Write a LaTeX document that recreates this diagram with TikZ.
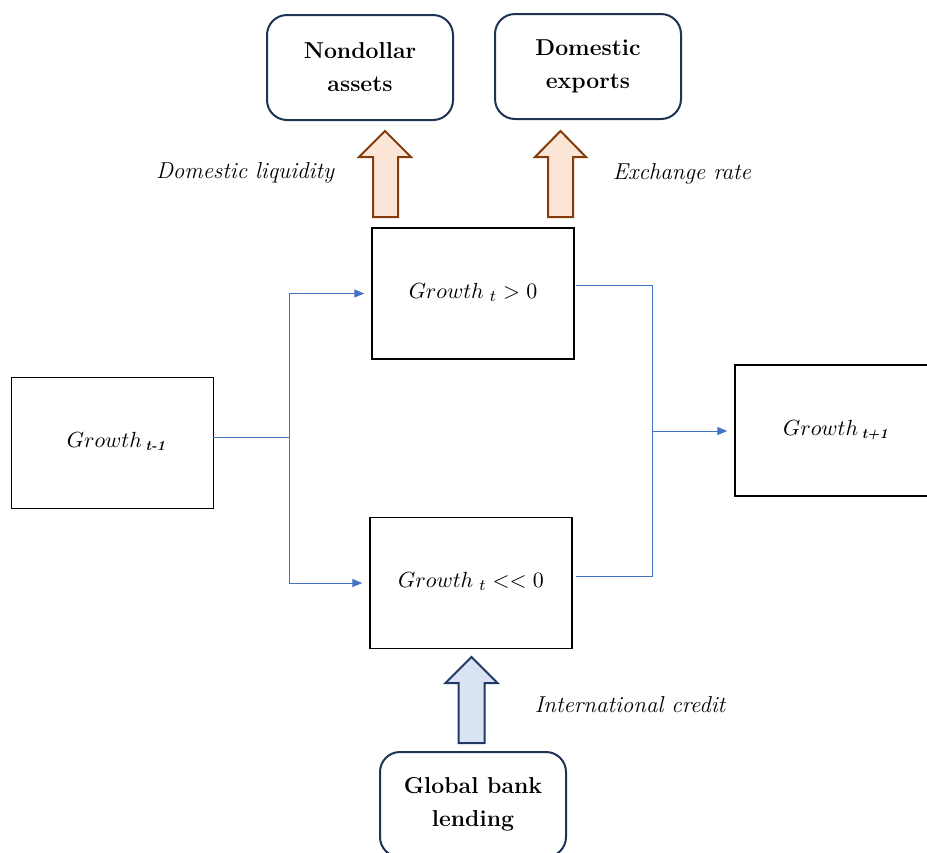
\documentclass[tikz,border=0pt]{standalone}
\usetikzlibrary{arrows.meta}
\definecolor{navy}{HTML}{1F3354}
\definecolor{brownedge}{HTML}{843C0C}
\definecolor{peach}{HTML}{FBE5D6}
\definecolor{conn}{HTML}{4472C4}
\definecolor{lightblue}{HTML}{DAE3F3}
\definecolor{navyarrow}{HTML}{203864}
\newcommand{\smallsub}[1]{\hbox{\fontsize{7}{8}\selectfont\bfseries\itshape #1}}
\begin{document}
\begin{tikzpicture}[x=0.5pt,y=-0.5pt,
  font=\fontsize{11.5}{16.5}\selectfont,
  growthbox/.style={draw=black, line width=0.7pt, minimum width=101pt, minimum height=65.5pt, inner sep=0pt, font=\fontsize{10.8}{13}\selectfont},
  roundbox/.style={draw=navy, line width=1pt, rounded corners=10pt, minimum width=93pt, minimum height=52.5pt, inner sep=0pt, align=center, font=\fontsize{11.5}{16.5}\selectfont\bfseries},
  conline/.style={draw=conn, line width=0.5pt},
  conarrow/.style={conline, -{Triangle[length=5pt,width=4pt]}, shorten >=3.5pt},
  brownarrow/.style={draw=brownedge, fill=peach, line width=1pt, line join=miter},
  bluearrow/.style={draw=navyarrow, fill=lightblue, line width=1pt, line join=miter},
  lbl/.style={font=\fontsize{11.5}{13}\selectfont\itshape}
]
\useasboundingbox (0,0) rectangle (927,852);

% rounded boxes
\node[roundbox] (nd) at (360,67.5) {Nondollar\\assets};
\node[roundbox] (de) at (588,66.5) {Domestic\\exports};
\node[roundbox] (gb) at (473,804.5) {Global bank\\lending};

% growth boxes
\node[growthbox] (gm) at (112.5,443) {\hspace*{4pt}\raisebox{3.5pt}{$Growth\,{}_{\smallsub{t-1}}$}};
\node[growthbox] (gp) at (473,293.5) {\raisebox{3pt}{$Growth\;{}_{t} > 0$}};
\node[growthbox] (gn) at (471,583) {\raisebox{3pt}{$Growth\;{}_{t} << 0$}};
\node[growthbox] (gf) at (836,430.5) {\raisebox{3pt}{$Growth\,{}_{\smallsub{t+1}}$}};

% block arrows
\draw[brownarrow] (373,217) -- (373,157) -- (359,157) -- (385,131) -- (411,157) -- (398,157) -- (398,217) -- cycle;
\draw[brownarrow] (548,217) -- (548,157) -- (535,157) -- (560.5,131) -- (586,157) -- (573,157) -- (573,217) -- cycle;
\draw[bluearrow] (458.5,743) -- (458.5,683) -- (445.5,683) -- (471.5,657) -- (497.5,683) -- (484.5,683) -- (484.5,743) -- cycle;

% labels
\node[lbl] (l1) at (245,173) {Domestic liquidity};
\node[lbl] (l2) at (682,174) {Exchange rate};
\node[lbl] (l3) at (630,705) {International credit};

% connectors
\coordinate (s1) at (213,437);
\coordinate (j1) at (289,437);
\coordinate (r1) at (576,285);
\coordinate (r2) at (576,576);
\coordinate (j2) at (652,431);
\draw[conline] (s1) -- (j1);
\draw[conarrow] (j1) |- (gp.west);
\draw[conarrow] (j1) |- (gn.west);
\draw[conline] (r1) -| (j2);
\draw[conline] (r2) -| (j2);
\draw[conarrow] (j2) -- (gf.west |- j2);
\end{tikzpicture}
\end{document}
